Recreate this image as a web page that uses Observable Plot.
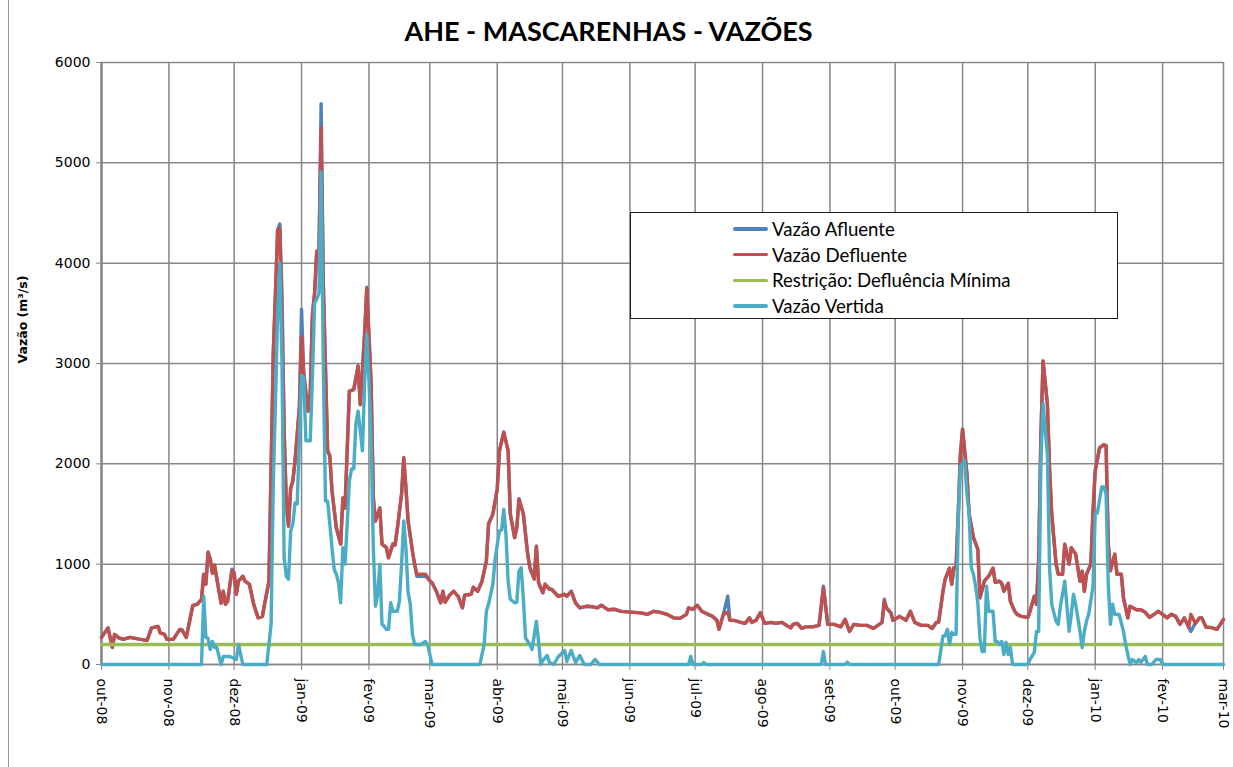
<!DOCTYPE html>
<html><head><meta charset="utf-8">
<script src="https://cdn.jsdelivr.net/npm/d3@7"></script>
<script src="https://cdn.jsdelivr.net/npm/@observablehq/plot@0.6"></script>
<style>
body{margin:0;background:#fff;}
#wrap{position:relative;width:1233px;height:767px;overflow:hidden;}
#legend{position:absolute;left:630px;top:212px;width:488px;height:107px;border:1.5px solid #1a1a1a;background:#fff;box-sizing:border-box;font-family:Lato,"Open Sans",sans-serif;font-size:18.6px;color:#000;}
.item{position:absolute;left:102px;height:22px;display:flex;align-items:center;white-space:nowrap;}
.sw{width:35px;height:3.5px;border-radius:2px;margin-right:4px;}
#edge{position:absolute;left:8px;top:0;width:1px;height:767px;background:#9a9a9a;}
</style></head>
<body><div id="wrap"><div id="edge"></div><div id="chart"></div><div id="legend"></div></div>
<script>
// ---- data (day offsets from 2008-10-01) ----
const defDays = [0,3,5,6,8,10,13,18,21,23,26,27,29,30,33,36,37,39,42,44,46,47,48,49,50,51,52,53,55,56,57,58,60,61,62,63,65,66,68,70,72,74,75,77,78,79,80,81,82,83,84,85,86,87,88,89,91,92,93,95,96,97,98,99,100,101,102,104,105,106,108,110,111,112,114,116,118,119,121,122,124,125,126,128,129,131,132,134,135,136,138,139,140,141,143,144,145,149,151,152,154,156,157,158,160,162,164,166,167,170,171,173,175,177,178,180,182,183,185,187,188,190,191,192,194,196,197,199,200,201,203,204,206,207,210,213,214,216,218,220,223,226,228,230,233,236,239,242,245,248,251,254,257,260,263,266,269,270,272,274,276,279,281,283,284,286,288,289,291,294,296,298,299,301,303,305,308,310,313,315,317,318,320,322,324,327,330,332,334,337,340,342,344,346,349,352,355,357,359,360,361,363,364,366,367,370,372,374,377,380,382,384,385,387,388,390,391,392,393,394,395,396,398,399,401,403,404,406,408,410,411,413,414,415,417,418,420,421,423,426,427,429,430,431,432,433,435,436,437,439,440,442,443,444,445,446,448,449,450,451,452,453,455,456,457,459,461,462,463,464,466,467,469,470,472,473,476,478,480,482,484,486,488,490,492,494,496,498,500,501,503,505,506,508,510,513,516];
const defluente = [270,365,170,300,265,250,270,250,240,365,380,315,300,250,250,350,345,270,590,600,650,900,800,1120,1050,910,990,860,610,730,600,630,935,915,700,830,880,830,800,600,465,480,600,830,1960,3100,3700,4330,4350,3500,2330,1600,1380,1760,1830,2030,2560,3270,2900,2525,2700,3490,3700,4120,4100,5350,3800,2130,2080,1730,1360,1200,1660,1560,2725,2740,2975,2590,3290,3750,2795,1660,1430,1560,1200,1165,1063,1200,1190,1346,1700,2060,1760,1430,1130,1000,900,900,833,815,730,615,730,620,690,730,680,565,690,700,770,730,830,1030,1400,1500,1750,2130,2315,2130,1500,1265,1365,1650,1500,1100,965,850,1180,815,715,800,750,750,680,700,680,730,615,565,580,575,565,590,545,550,530,525,520,515,500,530,520,500,465,460,500,565,550,590,530,500,480,440,350,500,520,440,440,420,410,465,420,440,515,410,420,410,420,390,365,400,410,360,375,375,390,765,400,400,375,450,330,400,390,390,360,390,420,630,565,515,440,465,480,440,530,420,390,390,360,420,420,730,850,960,800,965,965,1500,2095,2345,1900,1500,1265,1150,665,830,880,960,820,830,810,730,810,630,530,500,480,470,530,680,600,1050,2260,3025,2600,1960,1500,1000,900,900,1200,1100,1000,1165,1100,965,830,930,730,900,1000,1530,1930,2160,2190,2180,1200,935,1100,900,900,665,465,580,545,545,520,470,500,530,500,465,500,480,400,465,370,500,410,465,465,370,370,350,450];
const afluente = [270,365,170,300,265,250,270,250,240,365,380,315,300,250,250,350,345,270,590,600,650,900,800,1120,1050,910,990,860,610,730,600,630,950,915,700,830,880,830,800,600,465,480,600,830,1960,3100,3700,4330,4390,3700,2330,1600,1380,1760,1830,2030,2560,3540,2900,2525,2700,3490,3700,4120,4100,5590,3800,2130,2080,1730,1360,1200,1660,1560,2725,2740,2975,2590,3290,3760,2795,1660,1430,1560,1200,1165,1063,1200,1190,1346,1700,2060,1760,1430,1130,1000,880,880,833,815,730,615,730,620,690,730,680,565,690,700,770,730,830,1030,1400,1500,1750,2130,2315,2130,1500,1265,1365,1650,1500,1100,965,850,1180,815,715,800,750,750,680,700,680,730,615,565,580,575,565,590,545,550,530,525,520,515,500,530,520,500,465,460,500,565,550,590,530,500,480,440,350,500,680,440,440,420,410,465,420,440,515,410,420,410,420,390,365,400,410,360,375,375,390,780,400,400,375,450,330,400,390,390,360,390,420,650,565,515,440,465,480,440,530,420,390,390,360,420,420,730,850,960,800,965,965,1500,2095,2345,1900,1500,1265,1150,665,830,880,960,820,830,810,730,810,630,530,500,480,470,530,680,600,1050,2260,3025,2600,1960,1500,1000,900,900,1200,1100,1000,1165,1100,965,830,930,730,900,1000,1530,1930,2160,2190,2180,1200,935,1100,900,900,665,465,580,545,545,520,470,500,530,500,465,500,480,400,465,370,330,410,465,465,370,370,350,450];
const vertDays = [0,46,47,48,49,50,51,52,53,55,56,59,62,63,65,76,78,79,80,81,82,83,84,85,86,87,88,89,90,92,93,94,96,97,98,99,100,101,102,103,104,105,106,107,108,109,110,111,112,113,114,115,116,117,118,119,120,121,122,123,124,125,126,127,128,129,130,131,132,133,134,136,137,138,139,140,141,142,143,144,145,147,149,150,152,174,176,177,178,180,181,183,184,185,186,187,188,190,191,192,193,194,195,197,198,200,201,202,203,205,206,208,210,213,214,216,218,220,222,225,227,229,270,271,272,276,277,278,331,332,333,342,343,344,385,387,388,389,390,391,392,393,394,395,396,397,398,399,400,401,402,403,404,405,406,407,408,410,411,412,413,414,415,416,417,418,419,426,427,429,430,431,432,433,435,436,437,439,440,441,443,444,445,446,447,448,450,451,452,453,454,456,457,458,460,461,462,463,464,465,466,468,470,471,473,474,476,477,478,480,481,483,485,487,488,516];
const vertida = [0,0,680,270,260,150,230,170,170,0,80,80,50,200,0,0,400,1800,2600,3500,4000,3000,1060,880,850,1330,1400,1610,1600,2880,2860,2230,2230,2860,3600,3640,3700,4910,3000,1630,1630,1400,1165,950,900,815,615,1165,1000,1400,1830,1950,1950,2400,2525,2330,2130,2800,3290,2830,2230,1165,580,700,1000,400,380,350,350,615,530,530,630,1000,1430,1160,720,600,300,200,200,200,230,200,0,0,200,530,600,800,1050,1330,1340,1545,1300,830,650,615,620,930,965,665,265,200,150,430,230,0,40,90,20,0,75,140,30,140,20,90,0,0,50,0,0,80,0,0,20,0,0,130,0,0,25,0,0,285,285,350,200,320,300,300,1400,1970,2000,2030,1700,1500,965,900,780,620,265,130,130,780,530,530,230,230,200,230,100,220,100,170,0,0,50,120,330,330,2000,2600,2100,965,600,430,400,580,830,580,330,500,700,600,330,170,330,430,500,780,1500,1510,1770,1770,1700,800,400,600,500,500,330,200,0,50,20,50,20,80,0,0,50,50,0,0];
const restricao = 200;
const monthNames = ["jan","fev","mar","abr","mai","jun","jul","ago","set","out","nov","dez"];
const yTicks = [0,1000,2000,3000,4000,5000,6000];
const seriesNames = ["Vazão Afluente","Vazão Defluente","Restrição: Defluência Mínima","Vazão Vertida"];
const colors = ["#4F81BD","#C0504D","#9BBB59","#4BACC6"];
const titleText = "AHE - MASCARENHAS - VAZÕES";
const yLabel = "Vazão (m³/s)";

// ---- build ----
const base = Date.UTC(2008,9,1);
const toDate = d => new Date(base + d*86400000);
const defData = defDays.map((d,i)=>({date:toDate(d), v:defluente[i]}));
const afData = defDays.map((d,i)=>({date:toDate(d), v:afluente[i]}));
const vertData = vertDays.map((d,i)=>({date:toDate(d), v:vertida[i]}));
const start = toDate(0), end = toDate(516);
const monthTicks = d3.utcMonth.range(start, new Date(+end + 1));
const fmt = d => monthNames[d.getUTCMonth()] + "-" + String(d.getUTCFullYear()).slice(2);
const grid = "#878787";
const lw = 3.4;

const chart = Plot.plot({
  width:1233, height:767,
  marginLeft:101, marginRight:10, marginTop:62, marginBottom:103,
  style:{fontFamily:"'DejaVu Sans', sans-serif", fontSize:"13px", color:"#000", background:"transparent", overflow:"visible"},
  x:{type:"utc", domain:[start, end]},
  y:{domain:[0,6000]},
  marks:[
    Plot.gridX(monthTicks, {stroke:grid, strokeOpacity:1, strokeWidth:1.5}),
    Plot.gridY(yTicks, {stroke:grid, strokeOpacity:1, strokeWidth:1.5}),
    Plot.axisY(yTicks, {tickSize:5, tickPadding:6, label:null, stroke:grid, fontSize:14, tickFormat:d3.format("d")}),
    Plot.axisX(monthTicks, {tickSize:6, tickPadding:8, tickRotate:90, tickFormat:fmt, label:null, stroke:grid, fontSize:14}),
    Plot.ruleX([start], {stroke:grid, strokeWidth:2.5}),
    Plot.ruleY([0], {stroke:grid, strokeWidth:1.5}),
    Plot.line(afData, {x:"date", y:"v", stroke:colors[0], strokeWidth:lw}),
    Plot.line(defData, {x:"date", y:"v", stroke:colors[1], strokeWidth:lw}),
    Plot.ruleY([restricao], {stroke:colors[2], strokeWidth:lw}),
    Plot.line(vertData, {x:"date", y:"v", stroke:colors[3], strokeWidth:lw}),
    Plot.text([titleText], {frameAnchor:"top", lineAnchor:"middle", dy:-30, dx:-54, fontSize:27, fontWeight:"bold", fontFamily:"Lato, sans-serif", fill:"#000"}),
    Plot.text([yLabel], {frameAnchor:"left", rotate:-90, dx:-79, fontSize:12.5, fontWeight:"bold", fontFamily:"'DejaVu Sans', sans-serif", fill:"#000"})
  ]
});
document.getElementById("chart").appendChild(chart);

// legend
const leg = document.getElementById("legend");
seriesNames.forEach((n,i)=>{
  const it = document.createElement("div");
  it.className = "item";
  it.style.top = (5 + i*25.7) + "px";
  it.innerHTML = `<span class="sw" style="background:${colors[i]}"></span><span>${n}</span>`;
  leg.appendChild(it);
});
</script>
</body></html>
